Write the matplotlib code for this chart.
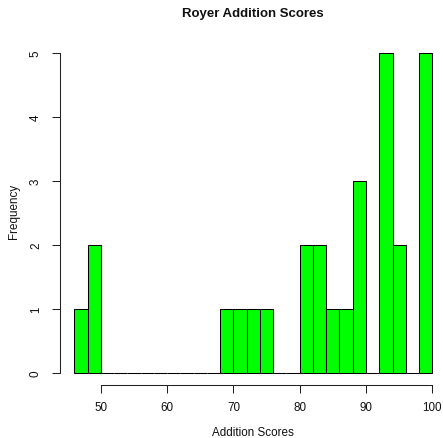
import numpy as np
import matplotlib
matplotlib.use("Agg")
import matplotlib.pyplot as plt

# histogram of the addition scores, 2-point bins from 46 to 100
bin_edges = np.arange(46, 102, 2)
counts = [1, 2, 0, 0, 0, 0, 0, 0, 0, 0, 0, 1, 1, 1, 1, 0, 0,
          2, 2, 1, 1, 3, 0, 5, 2, 0, 5]
x_ticks = [50, 60, 70, 80, 90, 100]
y_ticks = [0, 1, 2, 3, 4, 5]

plt.rcParams['font.family'] = ['Liberation Sans', 'DejaVu Sans']

W, H = 443, 439
fig = plt.figure(figsize=(W / 100, H / 100), dpi=100)
# plot region in pixels (left, bottom edge, right, top edge)
left, right, bottom, top = 60, 446.6, 386.3, 41.2
ax = fig.add_axes([left / W, 1 - bottom / H, (right - left) / W, (bottom - top) / H])

ax.bar(bin_edges[:-1], counts, width=2, align='edge',
       color='#00FF00', edgecolor='black', linewidth=0.75)

ax.set_xlim(43.84, 102.16)
ax.set_ylim(-0.2, 5.2)

for s in ['top', 'right']:
    ax.spines[s].set_visible(False)
ax.spines['left'].set_bounds(0, 5)
ax.spines['bottom'].set_bounds(50, 100)
for s in ['left', 'bottom']:
    ax.spines[s].set_linewidth(0.75)
    ax.spines[s].set_color('#222222')

ax.set_xticks(x_ticks)
ax.set_yticks(y_ticks)
ax.tick_params(axis='both', length=5.5, width=0.75, color='#222222',
               labelsize=8.4, labelcolor='#111111')
ax.tick_params(axis='x', pad=5.5)
ax.tick_params(axis='y', pad=7.5)
for lbl in ax.get_yticklabels():
    lbl.set_rotation(90)
    lbl.set_verticalalignment('center')

fig.text(253 / W, 1 - 433 / H, 'Addition Scores', ha='center', va='center',
         fontsize=8.4, color='#111111')
fig.text(14 / W, 1 - 211 / H, 'Frequency', ha='center', va='center',
         rotation=90, fontsize=8.4, color='#111111')
fig.text(253 / W, 1 - 14 / H, 'Royer Addition Scores', ha='center', va='center',
         fontsize=9.5, fontweight='bold', color='#111111')

fig.savefig('out.png', dpi=100)
